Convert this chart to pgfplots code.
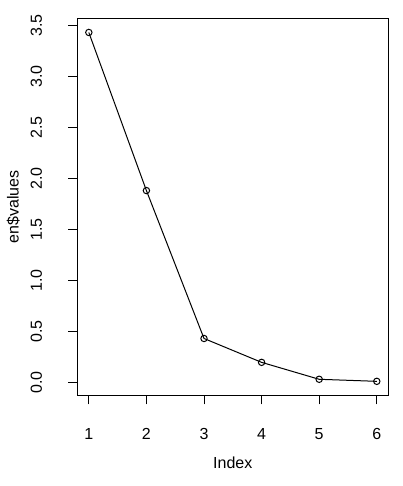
\documentclass[border=0pt]{standalone}
\usepackage{pgfplots}
\pgfplotsset{compat=1.18}
\usepackage{fontspec}
\setmainfont{Liberation Sans}
\begin{document}
\begin{tikzpicture}
\path[use as bounding box] (-77.3pt,-90.7pt) rectangle (325.7pt,395.3pt);
\begin{axis}[
  at={(0,0)}, anchor=south west,
  scale only axis, width=311pt, height=376.6pt,
  xmin=0.8, xmax=6.2, ymin=-0.127, ymax=3.565,
  font=\fontsize{16}{19}\selectfont,
  /pgf/number format/assume math mode=true,
  axis line style={line width=1pt},
  every tick/.style={black, line width=1pt},
  tick align=outside, major tick length=9pt,
  xtick pos=bottom, ytick pos=left,
  xtick={1,2,3,4,5,6},
  ytick={0,0.5,1,1.5,2,2.5,3,3.5},
  yticklabel style={/pgf/number format/fixed, /pgf/number format/fixed zerofill, /pgf/number format/precision=1, xshift=-26.3pt, rotate=90, anchor=base},
  xticklabel style={yshift=-35.4pt, anchor=base},
  xlabel={Index},
  ylabel={en\$values},
  xlabel style={at={(axis description cs:0.5,0)}, anchor=base, yshift=-72.7pt},
  ylabel style={at={(axis description cs:-0.189,0.5)}, anchor=base},
]
\addplot[black, line width=1pt, mark=o, mark size=3.2pt, mark options={fill=white, line width=1pt}]
coordinates {(1,3.43) (2,1.88) (3,0.43) (4,0.196) (5,0.03) (6,0.01)};
\end{axis}
\end{tikzpicture}
\end{document}
